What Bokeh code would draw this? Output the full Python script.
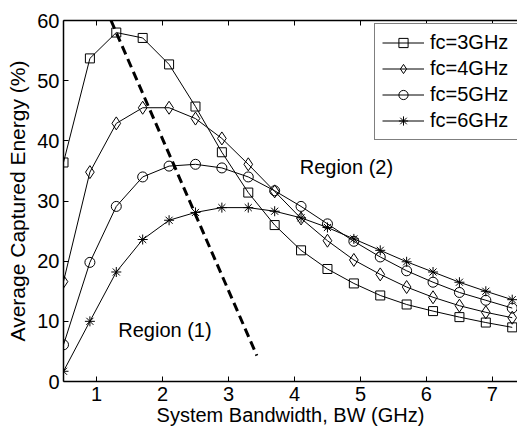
from bokeh.plotting import figure
from bokeh.models import LinearAxis, FixedTicker, Legend, LegendItem, Range1d
from bokeh.embed import file_html
from bokeh.resources import INLINE

bw = [0.5, 0.9, 1.3, 1.7, 2.1, 2.5, 2.9, 3.3, 3.7, 4.1, 4.5, 4.9, 5.3, 5.7, 6.1, 6.5, 6.9, 7.3]
fc3 = [36.4, 53.7, 58.0, 57.1, 52.7, 45.7, 38.1, 31.4, 26.0, 21.8, 18.7, 16.3, 14.3, 12.8, 11.7, 10.7, 9.8, 9.0]
fc4 = [16.6, 34.8, 42.9, 45.5, 45.5, 43.7, 40.4, 36.1, 31.6, 27.1, 23.4, 20.2, 17.8, 15.7, 14.0, 12.6, 11.5, 10.6]
fc5 = [6.1, 19.8, 29.1, 34.0, 35.8, 36.1, 35.5, 34.0, 31.7, 29.1, 26.2, 23.3, 20.7, 18.4, 16.5, 14.8, 13.5, 12.2]
fc6 = [1.7, 10.0, 18.2, 23.6, 26.8, 28.1, 28.9, 28.9, 28.3, 27.2, 25.6, 23.7, 21.8, 19.9, 18.2, 16.5, 15.0, 13.6]
labels = ["fc=3GHz", "fc=4GHz", "fc=5GHz", "fc=6GHz"]
markers = ["square", "diamond", "circle", "asterisk"]
boundary_bw = [1.22, 3.43]
boundary_e = [60.0, 4.3]
x_ticks = [1, 2, 3, 4, 5, 6, 7]
y_ticks = [0, 10, 20, 30, 40, 50, 60]

FONT = "Liberation Sans"
FS = "20px"

p = figure(width=517, height=429, output_backend="svg", toolbar_location=None,
           x_range=Range1d(0.5, 7.38), y_range=Range1d(0, 60),
           min_border_left=63, min_border_right=0, min_border_top=20, min_border_bottom=48,
           x_axis_label="System Bandwidth, BW (GHz)", y_axis_label="Average Captured Energy (%)")
p.outline_line_color = None
p.xgrid.visible = False
p.ygrid.visible = False
p.background_fill_color = "white"
p.border_fill_color = "white"

for ax in [p.xaxis[0], p.yaxis[0]]:
    ax.major_tick_in = 5
    ax.major_tick_out = 0
    ax.minor_tick_line_color = None
    ax.axis_line_color = "black"
    ax.axis_line_width = 1.5
    ax.major_tick_line_color = "black"
    ax.major_label_text_font = FONT
    ax.major_label_text_font_size = FS
    ax.major_label_text_color = "black"
    ax.axis_label_text_font = FONT
    ax.axis_label_text_font_size = FS
    ax.axis_label_text_font_style = "normal"
    ax.axis_label_text_color = "black"

p.xaxis[0].ticker = FixedTicker(ticks=x_ticks)
p.yaxis[0].ticker = FixedTicker(ticks=y_ticks)
p.xaxis[0].major_label_standoff = 5
p.xaxis[0].axis_label_standoff = 0
p.yaxis[0].major_label_standoff = 4
p.yaxis[0].axis_label_standoff = 5
p.yaxis[0].axis_label_text_font_size = "21px"

top = LinearAxis(ticker=FixedTicker(ticks=x_ticks))
top.major_tick_in = 5
top.major_tick_out = 0
top.minor_tick_line_color = None
top.axis_line_width = 1.5
top.major_label_overrides = {t: "" for t in x_ticks}
top.major_label_standoff = 0
p.add_layout(top, "above")

series = [fc3, fc4, fc5, fc6]
items = []
for vals, lab, mk in zip(series, labels, markers):
    ln = p.line(bw, vals, line_color="black", line_width=1)
    sz = {"square": 9, "diamond": 13, "circle": 10, "asterisk": 10}[mk]
    sc = p.scatter(bw, vals, marker=mk, size=sz, line_color="black", line_width=1,
                   fill_color="white", fill_alpha=0)
    items.append(LegendItem(label=lab, renderers=[ln, sc]))

p.line(boundary_bw, boundary_e, line_color="black", line_width=3, line_dash="9 5")

p.text(x=[1.33], y=[8.5], text=["Region (1)"], text_font_size=FS, text_baseline="middle",
       text_align="left", text_color="black", text_font={"value": FONT})
p.text(x=[4.08], y=[35.6], text=["Region (2)"], text_font_size=FS, text_baseline="middle",
       text_align="left", text_color="black", text_font={"value": FONT})

legend = Legend(items=items, location=(311, 241), margin=0, padding=7, spacing=3,
                glyph_width=42, glyph_height=23, label_standoff=6, label_width=90,
                label_text_font=FONT, label_text_font_size=FS, label_text_color="black",
                border_line_color="black", border_line_width=1, background_fill_alpha=1)
p.add_layout(legend, "center")

open("out.html", "w").write(file_html(p, INLINE))
